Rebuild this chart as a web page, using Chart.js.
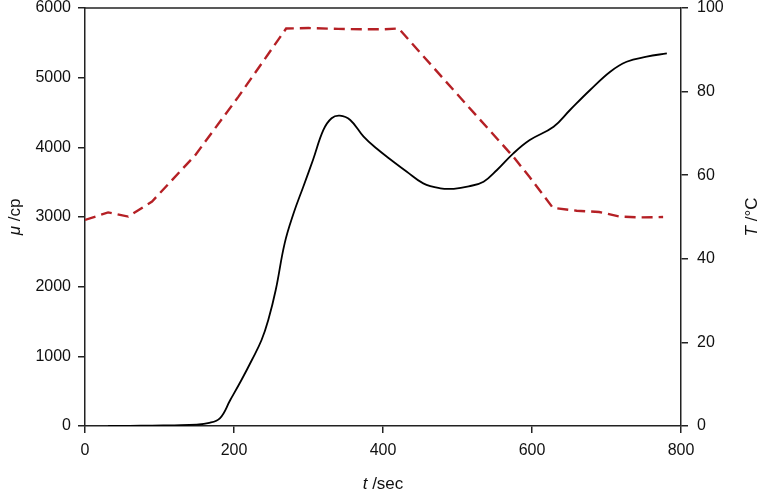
<!DOCTYPE html>
<html>
<head>
<meta charset="utf-8">
<script src="https://cdn.jsdelivr.net/npm/chart.js@4.4.1/dist/chart.umd.min.js"></script>
<style>
  html, body { margin: 0; padding: 0; background: #fff; }
  #wrap { width: 761px; height: 493px; position: relative; }
</style>
</head>
<body>
<div id="wrap"><canvas id="chart"></canvas></div>
<script>
// viscosity (black solid line)
const viscTime = [31, 60, 90, 120, 150, 165, 181, 195, 210, 224, 237, 246, 256, 268, 280, 293, 306, 320, 331, 342, 356, 374, 391, 414, 432, 454, 477, 495, 515, 535, 553, 575, 597, 629, 651, 678, 705, 727, 754, 781];
const viscValues = [0, 2, 5, 10, 20, 40, 110, 373, 660, 947, 1234, 1521, 1952, 2622, 3053, 3435, 3818, 4249, 4417, 4454, 4392, 4153, 3986, 3794, 3650, 3483, 3412, 3405, 3440, 3507, 3675, 3914, 4105, 4296, 4536, 4823, 5086, 5229, 5301, 5349];

// temperature (red dashed line)
const tempTime = [0, 31, 58, 90, 148, 206, 270, 300, 340, 380, 400, 421, 503, 575, 597, 628, 660, 690, 718, 745, 776];
const tempValues = [49.3, 51.1, 50.1, 53.7, 64.8, 78.8, 95.1, 95.2, 95.0, 94.9, 94.9, 95.1, 78.7, 64.4, 59.5, 52.2, 51.5, 51.2, 50.1, 49.9, 50.0];

const xTicks = [0, 200, 400, 600, 800];
const muTicks = [0, 1000, 2000, 3000, 4000, 5000, 6000];
const tempTicks = [0, 20, 40, 60, 80, 100];

const axisColor = '#222';
const textColor = '#111';
const fontFamily = '"Liberation Sans", Arial, Helvetica, sans-serif';

function drawMixed(ctx, parts, cx, cy, rot) {
  ctx.save();
  ctx.translate(cx, cy);
  ctx.rotate(rot);
  ctx.textBaseline = 'middle';
  ctx.textAlign = 'left';
  ctx.fillStyle = textColor;
  let total = 0;
  const widths = parts.map(([style, text]) => {
    ctx.font = style + ' 17px ' + fontFamily;
    const w = ctx.measureText(text).width;
    total += w;
    return w;
  });
  let x = -total / 2;
  parts.forEach(([style, text], i) => {
    ctx.font = style + ' 17px ' + fontFamily;
    ctx.fillText(text, x, 0);
    x += widths[i];
  });
  ctx.restore();
}

const frameAndTitles = {
  id: 'frameAndTitles',
  afterDraw(chart) {
    const { ctx, chartArea: a } = chart;
    ctx.save();
    ctx.strokeStyle = axisColor;
    ctx.lineWidth = 1.5;
    ctx.beginPath();
    ctx.moveTo(a.left, a.top);
    ctx.lineTo(a.right, a.top);
    ctx.stroke();
    ctx.restore();
    const midY = (a.top + a.bottom) / 2;
    drawMixed(ctx, [['italic', 't'], ['normal', ' /sec']], (a.left + a.right) / 2, 484, 0);
    drawMixed(ctx, [['italic', 'μ'], ['normal', ' /cp']], 15, midY, -Math.PI / 2);
    drawMixed(ctx, [['italic', 'T'], ['normal', ' /°C']], 752, midY, -Math.PI / 2);
  }
};

function pickTicks(list) {
  return scale => { scale.ticks = list.map(v => ({ value: v })); };
}

// fixed side widths, and no extra label padding above/below the plot
function sideFit(width) {
  return scale => {
    scale.width = width;
    scale.paddingTop = 0;
    scale.paddingBottom = 0;
  };
}

const tickFont = { family: fontFamily, size: 16 };
const plain = v => String(v);

new Chart(document.getElementById('chart'), {
  type: 'line',
  data: {
    datasets: [
      {
        label: 'viscosity',
        data: viscTime.map((t, i) => ({ x: t, y: viscValues[i] })),
        yAxisID: 'y',
        borderColor: '#000',
        borderWidth: 1.8,
        pointRadius: 0,
        tension: 0.4,
        fill: false
      },
      {
        label: 'temperature',
        data: tempTime.map((t, i) => ({ x: t, y: tempValues[i] })),
        yAxisID: 'y2',
        borderColor: '#b52025',
        borderWidth: 2.4,
        borderDash: [11, 6],
        pointRadius: 0,
        tension: 0,
        fill: false
      }
    ]
  },
  options: {
    responsive: true,
    maintainAspectRatio: false,
    animation: false,
    layout: { padding: { top: 8, left: 0, right: 0, bottom: 0 } },
    plugins: { legend: { display: false }, tooltip: { enabled: false } },
    scales: {
      x: {
        type: 'linear',
        min: 0, max: 800,
        afterBuildTicks: pickTicks(xTicks),
        afterFit: s => { s.height = 67; },
        grid: { drawOnChartArea: false, drawTicks: true, tickLength: 7, color: axisColor, lineWidth: 1.5 },
        border: { display: true, color: axisColor, width: 1.5 },
        ticks: { font: tickFont, color: textColor, padding: 8, maxRotation: 0, callback: plain }
      },
      y: {
        type: 'linear',
        position: 'left',
        min: 0, max: 6000,
        afterBuildTicks: pickTicks(muTicks),
        afterFit: sideFit(85),
        grid: { drawOnChartArea: false, drawTicks: true, tickLength: 7, color: axisColor, lineWidth: 1.5 },
        border: { display: true, color: axisColor, width: 1.5 },
        ticks: { font: tickFont, color: textColor, padding: 7, callback: plain }
      },
      y2: {
        type: 'linear',
        position: 'right',
        min: 0, max: 100,
        afterBuildTicks: pickTicks(tempTicks),
        afterFit: sideFit(80),
        grid: { drawOnChartArea: false, drawTicks: true, tickLength: 7, color: axisColor, lineWidth: 1.5 },
        border: { display: true, color: axisColor, width: 1.5 },
        ticks: { font: tickFont, color: textColor, padding: 9, callback: plain }
      }
    }
  },
  plugins: [frameAndTitles]
});
</script>
</body>
</html>
